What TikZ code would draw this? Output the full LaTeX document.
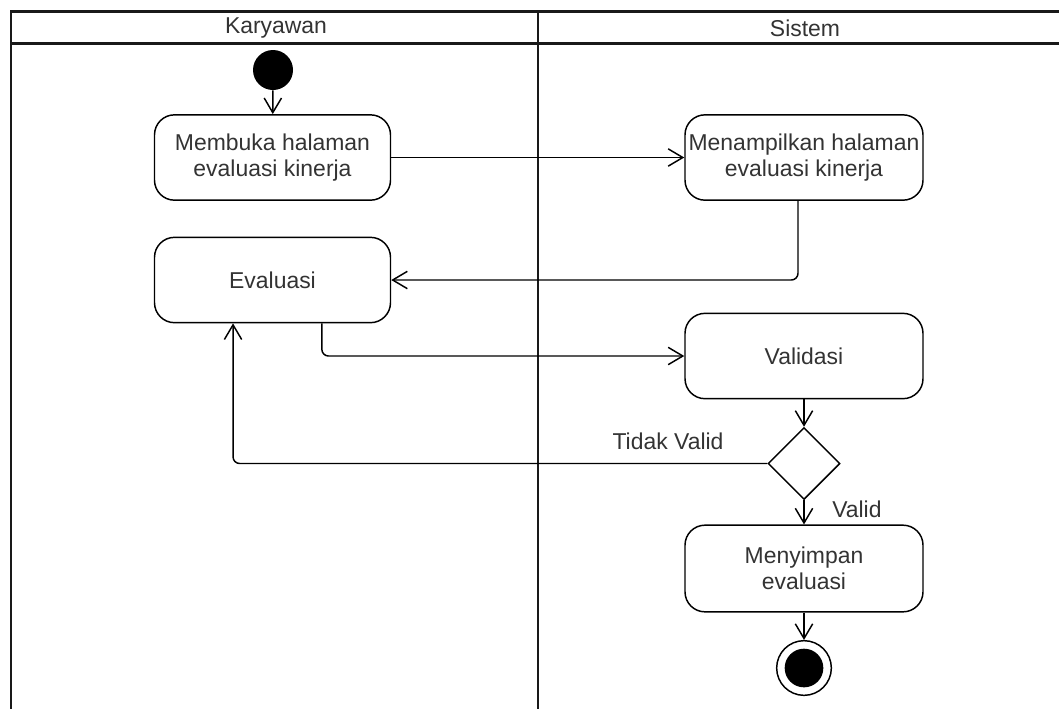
\documentclass[tikz,border=0pt]{standalone}
\usepackage{fontspec}
\setmainfont{Liberation Sans}
\usetikzlibrary{arrows.meta,shapes.geometric}
\definecolor{txt}{HTML}{333333}
\tikzset{
  lane/.style={line width=2.2pt, draw=black!90},
  act/.style={draw=black, line width=1.1pt, rounded corners=15pt, align=center,
    minimum width=177pt, minimum height=64pt, inner sep=0pt, text=txt,
    font=\fontsize{17.2}{19.5}\selectfont},
  flow/.style={draw=black, line width=1.1pt, rounded corners=5pt,
    -{Straight Barb[length=11pt,width=13pt,line width=1.1pt]}},
  lbl/.style={text=txt, font=\fontsize{17.2}{19.5}\selectfont, inner sep=0pt},
}
\begin{document}
\begin{tikzpicture}[x=0.75pt,y=-0.75pt]
\useasboundingbox (0,0) rectangle (1059,708);
% swimlane frame
\draw[lane] (11,720) -- (11,11.5) -- (1075,11.5);
\draw[lane] (11,43.5) -- (1075,43.5);
\draw[lane] (538,11.5) -- (538,720);
\node[lbl] (hk) at (276,28) {Karyawan};
\node[lbl] (hs) at (805,28) {Sistem};
% nodes
\node[circle, fill=black, minimum size=30pt, inner sep=0pt] (start) at (273,70) {};
\node[act] (mb) at (272.5,157.5) {Membuka halaman\\evaluasi kinerja};
\node[act, minimum width=178.5pt] (mt) at (804,157.5) {Menampilkan halaman\\evaluasi kinerja};
\node[act] (ev) at (272.5,280) {Evaluasi};
\node[act, minimum width=178.5pt] (val) at (804,356) {Validasi};
\node[diamond, draw=black, line width=1.1pt, minimum width=54pt, minimum height=54pt, inner sep=0pt] (dec) at (804,463.5) {};
\node[act, minimum width=178.5pt, minimum height=65pt] (ms) at (804,568.5) {Menyimpan\\evaluasi};
\node[circle, draw=black, line width=1.1pt, minimum size=41pt, inner sep=0pt] (end) at (804,668) {};
\node[circle, fill=black, minimum size=29pt, inner sep=0pt] (endin) at (end.center) {};
% connectors
\draw[flow] (start) -- (mb);
\draw[flow] (mb.east) -- (mt.west);
\draw[flow] ([xshift=-4.5pt]mt.south) |- (ev.east);
\draw[flow] ([xshift=37pt]ev.south) |- (val.west);
\draw[flow] (val.south) -- (dec.north);
\draw[flow] (dec.west) -| ([xshift=-29.6pt]ev.south);
\draw[flow] (dec.south) -- (ms.north);
\draw[flow] (ms.south) -- (end.north);
\node[lbl] (tv) at (668,441) {Tidak Valid};
\node[lbl, anchor=west] (vl) at (832,509) {Valid};
\end{tikzpicture}
\end{document}
